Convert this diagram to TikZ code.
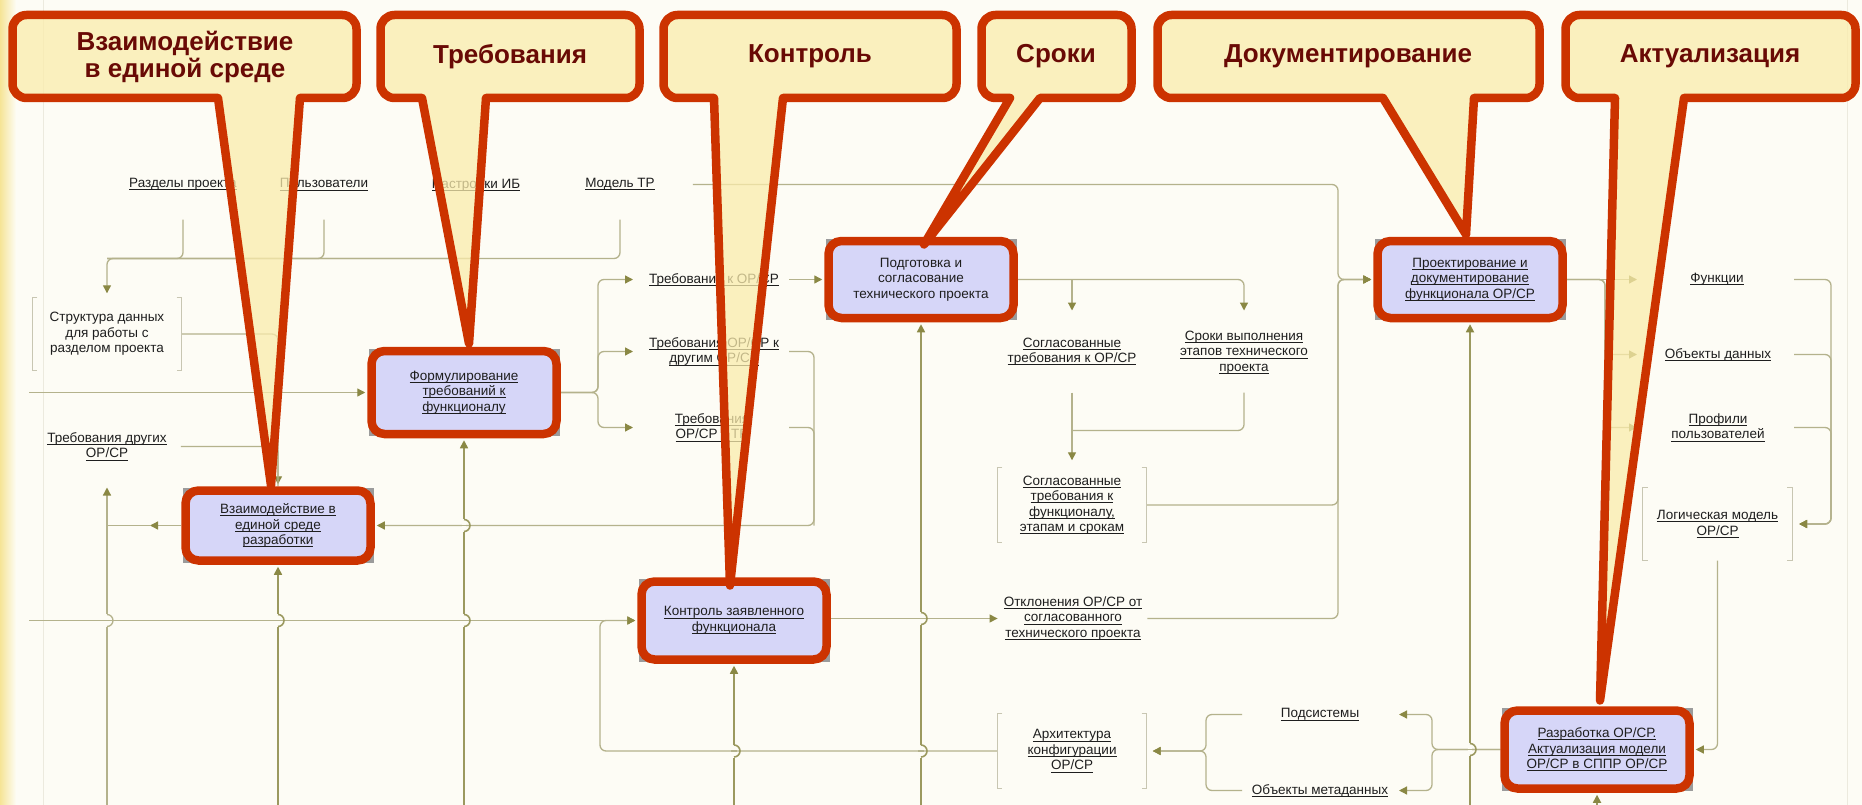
\documentclass[tikz,border=0pt]{standalone}
\usepackage{fontspec}
\setmainfont{Liberation Sans}
\usetikzlibrary{arrows.meta}

\definecolor{bgC}{RGB}{253,252,245}
\definecolor{connC}{RGB}{180,178,140}
\definecolor{mechC}{RGB}{155,153,95}
\definecolor{arrC}{RGB}{138,136,68}
\definecolor{redC}{RGB}{204,51,0}
\definecolor{boxC}{RGB}{214,214,248}
\definecolor{noteC}{RGB}{250,236,172}
\definecolor{noteT}{RGB}{105,10,5}
\definecolor{txtC}{RGB}{30,30,30}
\definecolor{brkC}{RGB}{200,198,178}
\definecolor{frameC}{RGB}{236,234,222}
\definecolor{shadC}{RGB}{155,155,155}

\pgfdeclarelayer{back}
\pgfdeclarelayer{lines}
\pgfdeclarelayer{front}
\pgfsetlayers{back,lines,main,front}

% underlined link text
\newsavebox{\lnkbox}
\newcommand{\lnk}[1]{\sbox\lnkbox{#1}\leavevmode\rlap{\rule[-2.6pt]{\wd\lnkbox}{0.9pt}}\usebox\lnkbox}

% square brackets round a label
\newcommand{\bracketsof}[1]{%
  \draw[brkline] ([xshift=5pt]#1.north west) -- (#1.north west) -- (#1.south west) -- ([xshift=5pt]#1.south west);
  \draw[brkline] ([xshift=-5pt]#1.north east) -- (#1.north east) -- (#1.south east) -- ([xshift=-5pt]#1.south east);}

% hop of a vertical line over a horizontal one
\newcommand{\linehop}[3][mech]{%
  \fill[bgC] (#2-2,#3-6.5) rectangle (#2+2,#3+6.5);
  \draw[conn] (#2-3,#3) -- (#2+3,#3);
  \draw[#1] (#2,#3-6) arc (-90:90:6);}

% callout: left, top, right, bottom, base left, base right, tip
\newcommand{\drawnote}[7]{%
  \filldraw[note] (#5,#4) -- (#7) -- (#6,#4) -- (#3-14,#4) arc (90:0:14)
    -- (#3,#2+14) arc (0:-90:14) -- (#1+14,#2) arc (-90:-180:14)
    -- (#1,#4-14) arc (180:90:14) -- cycle;}

\begin{document}
\begin{tikzpicture}[x=1pt,y=-1pt,
    conn/.style={draw=connC,line width=1.3pt,rounded corners=6pt},
    mech/.style={draw=mechC,line width=1.6pt},
    arr/.style={-{Triangle[length=8pt,width=8pt,color=arrC]}},
    box/.style={draw=redC,line width=8.5pt,fill=boxC,rounded corners=13pt,
        minimum width=185pt,minimum height=78pt,align=center,inner sep=2pt,
        text=txtC,font=\fontsize{13.5}{15.5}\selectfont},
    lbl/.style={align=center,inner sep=0pt,text=txtC,
        font=\fontsize{13.5}{15.5}\selectfont},
    brk/.style={lbl,minimum width=149pt,minimum height=73pt},
    brkline/.style={draw=brkC,line width=1.1pt},
    note/.style={fill=noteC,fill opacity=.75,draw=redC,line width=8.5pt,line join=round},
    notetext/.style={text=noteT,align=center,font=\fontsize{26}{27}\selectfont\bfseries}
    ]

    % Background
    \begin{pgfonlayer}{back}
        \fill[bgC] (0,0) rectangle (1862,804);
        \shade[left color={rgb,255:red,246;green,228;blue,150},right color=bgC] (0,0) rectangle (16,804);
        \draw[frameC,line width=1pt] (43,0) -- (43,804);
        \draw[frameC,line width=1pt] (1847,0) -- (1847,804);
    \end{pgfonlayer}
    \useasboundingbox (0,0) rectangle (1862,804);

    % Process boxes
    \begin{pgfonlayer}{front}
        \node[box,minimum height=83pt] (form) at (464,392) {\lnk{Формулирование}\\\lnk{требований к}\\\lnk{функционалу}};
        \node[box,minimum height=70pt] (sreda) at (278,525) {\lnk{Взаимодействие в}\\\lnk{единой среде}\\\lnk{разработки}};
        \node[box,minimum height=77pt] (podg) at (921,279) {Подготовка и\\согласование\\технического проекта};
        \node[box,minimum height=77pt] (proekt) at (1470,279) {\lnk{Проектирование и}\\\lnk{документирование}\\\lnk{функционала ОР/СР}};
        \node[box] (kontr) at (734,620) {\lnk{Контроль заявленного}\\\lnk{функционала}};
        \node[box] (razrab) at (1597,749) {\lnk{Разработка ОР/СР.}\\\lnk{Актуализация модели}\\\lnk{ОР/СР в СППР ОР/СР}};
    \end{pgfonlayer}
    \foreach \bx in {form,sreda,podg,proekt,kontr,razrab}
        \fill[shadC] ([shift={(2pt,-2pt)}]\bx.north west) rectangle ([shift={(-1pt,2pt)}]\bx.south east);

    % Labels
    \node[lbl] (razd) at (183,184) {\lnk{Разделы проекта}};
    \node[lbl] (polz) at (324,184) {\lnk{Пользователи}};
    \node[lbl] (nastr) at (476,184) {\lnk{Настройки ИБ}};
    \node[lbl] (model) at (620,184) {\lnk{Модель ТР}};
    \node[brk] (struct) at (107,333.5) {Структура данных\\для работы с\\разделом проекта};
    \node[lbl] (trdr) at (107,446) {\lnk{Требования других}\\\lnk{ОР/СР}};
    \node[lbl] (trk) at (714,279) {\lnk{Требования к ОР/СР}};
    \node[lbl] (trdrug) at (714,351) {\lnk{Требования ОР/СР к}\\\lnk{другим ОР/СР}};
    \node[lbl] (trtr) at (712,427) {\lnk{Требования}\\\lnk{ОР/СР к ТР}};
    \node[lbl] (sogl) at (1072,351) {\lnk{Согласованные}\\\lnk{требования к ОР/СР}};
    \node[lbl] (sroki) at (1244,352) {\lnk{Сроки выполнения}\\\lnk{этапов технического}\\\lnk{проекта}};
    \node[brk,minimum height=75pt] (soglf) at (1072,504.5) {\lnk{Согласованные}\\\lnk{требования к}\\\lnk{функционалу,}\\\lnk{этапам и срокам}};
    \node[lbl] (otkl) at (1073,618) {\lnk{Отклонения ОР/СР от}\\\lnk{согласованного}\\\lnk{технического проекта}};
    \node[brk,minimum height=75pt] (arch) at (1072,750.5) {\lnk{Архитектура}\\\lnk{конфигурации}\\\lnk{ОР/СР}};
    \node[lbl] (podsys) at (1320,714) {\lnk{Подсистемы}};
    \node[lbl] (objmeta) at (1320,790) {\lnk{Объекты метаданных}};
    \node[lbl] (func) at (1717,279) {\lnk{Функции}};
    \node[lbl] (objd) at (1718,354) {\lnk{Объекты данных}};
    \node[lbl] (prof) at (1718,427) {\lnk{Профили}\\\lnk{пользователей}};
    \node[brk] (logic) at (1717.5,523.5) {\lnk{Логическая модель}\\\lnk{ОР/СР}};
    \bracketsof{struct}
    \bracketsof{soglf}
    \bracketsof{arch}
    \bracketsof{logic}

    % Connectors
    \begin{pgfonlayer}{lines}
        \coordinate (bot) at (0,804);
        \coordinate (lft) at (29,0);
        \coordinate (jTop) at (107,258);
        \coordinate (jT) at (598,0);
        \coordinate (tT) at (633,0);
        \coordinate (oT) at (789,0);
        \coordinate (jR) at (814,525);
        \coordinate (jL) at (150,525);
        \coordinate (upL) at (107,487);
        \coordinate (jA) at (600,0);
        \coordinate (jB) at (1338,0);
        \coordinate (tS) at (0,310);
        \coordinate (oS) at (0,392);
        \coordinate (jS) at (0,430);
        \coordinate (jF) at (1605,0);
        \coordinate (tF) at (1637,0);
        \coordinate (oG) at (1794,0);
        \coordinate (jG) at (1831,0);
        \coordinate (jP) at (1432,0);
        \coordinate (tP) at (1399,0);
        \coordinate (oP) at (1242,0);
        \coordinate (jQ) at (1206,0);

        % top controls
        \foreach \lab in {razd,polz,nastr}
            \draw[conn] (\lab.south) ++(0,29) |- (jTop);
        \draw[conn,arr] (model.south) ++(0,29) |- (jTop) -- ([yshift=4pt]struct.north);

        % left side
        \draw[conn,arr] (struct.east) -| ([yshift=2pt]sreda.north);
        \draw[conn] ([xshift=14pt]trdr.east) -| (sreda.north);
        \draw[conn,arr] (form.west -| lft) -- ([xshift=-2pt]form.west);
        \draw[conn,arr] (sreda.west) -- (jL);
        \draw[conn] (jL) -- (sreda.west -| upL);
        \draw[conn,arr] (upL |- bot) -- (upL);
        \draw[conn,arr] (kontr.west -| lft) -- ([xshift=-2pt]kontr.west);

        % requirements
        \foreach \lab in {trk,trdrug,trtr}
            \draw[conn,arr] (form.east) -- (form.east -| jT) |- (\lab.west -| tT);
        \draw[conn,arr] (trk.east -| oT) -- ([xshift=-2pt]podg.west);
        \draw[conn,arr] (trdrug.east -| oT) -| (jR) -- ([xshift=2pt]sreda.east);
        \draw[conn] (trtr.east -| oT) -| (jR);

        % mechanisms
        \foreach \bx in {form,sreda,podg,proekt,kontr,razrab}
            \draw[mech,arr] (\bx.south |- bot) -- ([yshift=-2pt]\bx.south);

        % technical project
        \draw[conn,arr] (podg.east) -| (sroki.north |- tS);
        \draw[conn,arr] (podg.east -| sogl.north) -- (sogl.north |- tS);
        \draw[conn,arr] (sogl.south |- oS) -- ([yshift=7pt]soglf.north);
        \draw[conn] (sroki.south |- oS) |- (soglf.north |- jS);

        % control
        \draw[conn,arr] (otkl.west -| kontr.east) -- ([xshift=-6pt]otkl.west);
        \draw[conn,arr] (arch.west) -| (kontr.west -| jA) -- ([xshift=-2pt]kontr.west);

        % design inputs
        \draw[conn,arr] ([xshift=38pt]model.east) -| (proekt.west -| jB) -- ([xshift=-2pt]proekt.west);
        \draw[conn,arr] (soglf.east) -| (proekt.west -| jB) -- ([xshift=-2pt]proekt.west);
        \draw[conn,arr] ([xshift=5pt]otkl.east) -| (proekt.west -| jB) -- ([xshift=-2pt]proekt.west);

        % design outputs
        \draw[conn,arr] (proekt.east) -- (proekt.east -| tF);
        \foreach \lab in {objd,prof}
            \draw[conn,arr] (proekt.east) -- (proekt.east -| jF) |- (\lab.west -| tF);
        \foreach \lab in {func,objd,prof}
            \draw[conn,arr] (\lab.east -| oG) -| (logic.east -| jG) -- ([xshift=7pt]logic.east);
        \draw[conn,arr] (logic.south) |- ([xshift=2pt]razrab.east);

        % development outputs
        \foreach \lab in {podsys,objmeta}
            \draw[conn,arr] (razrab.west) -- (razrab.west -| jP) |- (\lab.east -| tP);
        \foreach \lab in {podsys,objmeta}
            \draw[conn,arr] (\lab.west -| oP) -| (arch.east -| jQ) -- ([xshift=6pt]arch.east);

        % hops
        \linehop[conn]{107}{620}
        \linehop{278}{620}
        \linehop{464}{620}
        \linehop{464}{525}
        \linehop{734}{750.5}
        \linehop{921}{618}
        \linehop{921}{750.5}
        \linehop{1470}{749}
    \end{pgfonlayer}

    % Callouts
    \begin{pgfonlayer}{front}
        \drawnote{12.5}{14.5}{356.5}{97.5}{218}{300}{271,485}
        \node[notetext] (nSreda) at (185,57) {Взаимодействие\\в единой среде};
        \drawnote{380.5}{14.5}{639.5}{97.5}{422}{486}{469,343}
        \node[notetext] (nTreb) at (510,56) {Требования};
        \drawnote{663.5}{14.5}{956.5}{97.5}{714}{783}{730,585}
        \node[notetext] (nKontr) at (810,56) {Контроль};
        \drawnote{981.5}{14.5}{1131.5}{97.5}{1010}{1040}{924,244}
        \node[notetext] (nSroki) at (1056,56) {Сроки};
        \drawnote{1157.5}{14.5}{1539.5}{97.5}{1383}{1474}{1466,234}
        \node[notetext] (nDok) at (1348,56) {Документирование};
        \drawnote{1565.5}{14.5}{1855.5}{97.5}{1615}{1684}{1600,700}
        \node[notetext] (nAkt) at (1710,56) {Актуализация};
    \end{pgfonlayer}
\end{tikzpicture}
\end{document}
